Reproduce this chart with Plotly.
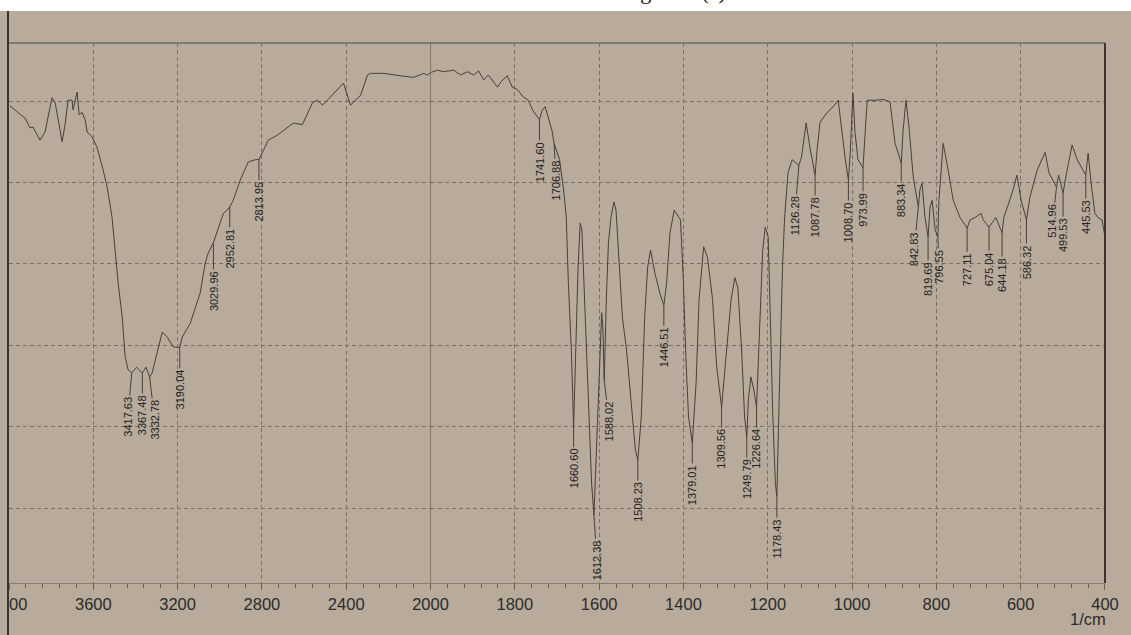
import numpy as np
import plotly.graph_objects as go

# ---------------- data ----------------
wavenumber = [
    3995, 3971, 3924, 3900, 3886, 3853, 3829, 3796, 3781, 3748, 3734, 3720, 3701, 3696,
    3677, 3667, 3653, 3639, 3629, 3606, 3582, 3553, 3534, 3511, 3496, 3482, 3463, 3449,
    3435, 3417.63, 3395, 3367.48, 3350, 3332.78, 3321, 3297, 3273, 3249, 3221, 3190.04,
    3178, 3140, 3093, 3069, 3055, 3029.96, 3007, 2983, 2965, 2952.81, 2936, 2903, 2865,
    2830, 2813.95, 2793, 2770, 2727, 2679, 2651, 2608, 2560, 2537, 2513, 2475, 2442, 2413,
    2380, 2356, 2332, 2299, 2285, 2223, 2176, 2142, 2081, 2033, 2014, 2000,
    1983, 1969, 1945, 1929, 1912, 1898, 1886, 1874, 1863, 1841, 1834, 1818, 1806, 1794,
    1780, 1768, 1758, 1741.60, 1735, 1728, 1720, 1712, 1706.88, 1694, 1685, 1678, 1673,
    1666, 1660.60, 1655, 1650, 1645, 1641, 1636, 1630, 1624, 1618, 1612.38, 1606, 1601,
    1598, 1594, 1591, 1588.02, 1583, 1578, 1572, 1565, 1560, 1555, 1545, 1535, 1522, 1514,
    1508.23, 1500, 1492, 1485, 1478, 1468, 1456, 1446.51, 1440, 1432, 1422, 1414, 1407,
    1400, 1395, 1388, 1379.01, 1370, 1363, 1352, 1343, 1331, 1321, 1309.56, 1298, 1287,
    1278, 1271, 1262, 1255, 1249.79, 1246, 1240, 1233, 1226.64, 1221, 1212, 1206, 1199,
    1194, 1188, 1182, 1178.43, 1172, 1165, 1160, 1152, 1142, 1126.28, 1120, 1109, 1099,
    1087.78, 1083, 1076, 1059, 1045, 1033, 1024, 1016, 1008.70, 1004, 998, 993, 986,
    973.99, 969, 964, 941, 926, 910, 898, 883.34, 879, 872, 865, 855, 842.83, 839, 834,
    827, 819.69, 815, 810, 803, 796.55, 794, 784, 775, 760, 744, 727.11, 720, 708, 694,
    689, 675.04, 668, 659, 644.18, 640, 630, 618, 609, 599, 586.32, 578, 561, 542, 533,
    523, 514.96, 510, 499.53, 490, 478, 466, 452, 445.53, 440, 433, 424, 417, 407, 400,
]
transmittance = [
    59.4, 58.9, 57.9, 56.7, 56.8, 55.2, 56.2, 60.4, 59.8, 55.0, 57.1, 60.1, 60.1, 58.9,
    61.1, 58.3, 58.6, 57.7, 56.2, 55.6, 54.3, 51.5, 49.4, 45.7, 41.7, 37.6, 33.5, 28.6,
    27.0, 26.6, 27.3, 26.6, 27.3, 26.1, 26.6, 29.0, 31.6, 31.0, 29.8, 29.7,
    31.0, 32.7, 36.4, 40.1, 41.3, 42.6, 44.5, 46.2, 46.6, 47.0, 47.8, 50.3, 52.5,
    52.8, 52.8, 54.0, 55.2, 55.8, 56.8, 57.3, 57.1, 59.8, 60.1, 59.5, 60.5, 61.4, 62.2,
    59.5, 60.1, 60.7, 63.2, 63.4, 63.4, 63.2, 63.1, 62.9, 63.4, 63.2, 63.5,
    63.8, 63.6, 63.8, 63.2, 63.6, 63.2, 63.7, 62.6, 63.2, 61.7, 62.3, 63.1, 61.7, 61.4,
    60.5, 60.1, 58.9, 57.7, 58.9, 59.3, 58.0, 56.4, 54.8, 52.8, 49.4, 45.7, 37.6,
    29.4, 20.0, 29.4, 39.6, 45.0, 44.2, 37.6, 29.4, 21.2, 13.1, 9.1, 18.4, 25.4,
    30.3, 34.0, 31.9, 25.7, 35.6, 42.6, 45.7, 47.6, 46.6, 41.7, 33.5, 29.4, 21.2, 17.1,
    15.9, 21.2, 33.5, 39.6, 41.7, 38.9, 36.4, 34.9, 37.6, 43.8, 46.6, 46.0, 45.4,
    37.6, 29.4, 21.2, 18.0, 25.4, 35.6, 42.1, 40.8, 35.6, 27.3, 22.4, 29.4, 35.6,
    38.3, 37.1, 29.4, 21.2, 18.7, 23.3, 26.1, 24.5, 22.4, 29.4, 41.7, 44.5, 43.3,
    33.5, 21.2, 13.1, 11.4, 25.4, 39.6, 45.7, 51.2, 52.8, 52.1, 53.1, 57.3, 54.0,
    50.9, 54.0, 57.4, 58.6, 59.3, 60.1, 56.1, 52.8, 50.3, 54.0, 61.0, 56.1, 52.8,
    51.8, 56.1, 60.1, 60.1, 60.2, 59.9, 54.8, 52.4, 56.4, 60.1, 56.8, 50.7, 47.0, 49.1, 49.9,
    45.7, 43.3, 47.0, 47.8, 44.2, 43.3, 47.8, 54.8, 52.4, 47.8, 45.7, 44.4, 45.4, 45.7, 46.2,
    45.4, 44.5, 45.0, 45.7, 43.8, 45.7, 47.2, 49.1, 50.9, 47.8, 45.4, 48.2, 51.5, 53.7, 51.2,
    50.3, 49.4, 50.9, 48.7, 51.5, 54.6, 52.8, 51.5, 50.9, 53.6, 49.9, 46.2, 45.7, 45.4, 43.3,
]
peak_wavenumbers = [
    3417.63, 3367.48, 3332.78, 3190.04, 3029.96, 2952.81, 2813.95,
    1741.60, 1706.88, 1660.60, 1612.38, 1588.02, 1508.23, 1446.51, 1379.01,
    1309.56, 1249.79, 1226.64, 1178.43, 1126.28, 1087.78, 1008.70, 973.99,
    883.34, 842.83, 819.69, 796.55, 727.11, 675.04, 644.18, 586.32,
    514.96, 499.53, 445.53,
]
upper_ticks = [4000, 3600, 3200, 2800, 2400]
lower_ticks = [2000, 1800, 1600, 1400, 1200, 1000, 800, 600, 400]
x_unit = "1/cm"
title_text = "Figure 6 (c)."

# ---------------- style ----------------
BG = "#b8ab9b"
CURVE = "#45403a"
GRID = "#7b7167"
BORDER = "#3a3530"
TEXT = "#2b2b2b"
W, H = 1131, 635
ML, MR, MT, MB = 9, 26, 43, 52
PW, PH = W - ML - MR, H - MT - MB
split = 1000 / 2600  # 4000-2000 drawn at half the scale of 2000-400

# per-label leader offsets (pixels), default below the curve
label_offset = {3417.63: (-4, 44), 3332.78: (5, 43), 3029.96: (0, 48), 1612.38: (3, 45),
                1588.02: (5, 41), 1126.28: (-4, 50), 842.83: (-4, 42), 796.55: (1, 30),
                514.96: (-4, 34), 1706.88: (2, 37), 883.34: (0, 37)}

wn = np.array(wavenumber, dtype=float)
tr = np.array(transmittance, dtype=float)
up = wn >= 2000
lo = wn <= 2000

fig = go.Figure()
fig.add_trace(go.Scatter(x=wn[up], y=tr[up], xaxis="x", yaxis="y", mode="lines",
                         line=dict(color=CURVE, width=1), hoverinfo="skip", showlegend=False))
fig.add_trace(go.Scatter(x=wn[lo], y=tr[lo], xaxis="x2", yaxis="y", mode="lines",
                         line=dict(color=CURVE, width=1), hoverinfo="skip", showlegend=False))

tickfont = dict(family="Liberation Sans, Arial", size=16.5, color=TEXT)
common_x = dict(showgrid=True, gridcolor=GRID, griddash="4px,3px", gridwidth=1,
                showline=True, linecolor="#857b70", linewidth=1, ticks="outside",
                ticklen=6, tickcolor="#6a6158", tickfont=tickfont, zeroline=False,
                tickmode="array", anchor="y", fixedrange=True, automargin=False,
                ticklabeloverflow="allow")

annotations = []
for p in peak_wavenumbers:
    ax_off, ay_off = label_offset.get(p, (0, 42))
    yv = float(np.interp(p, wn[::-1], tr[::-1]))
    annotations.append(dict(
        x=p, y=yv, xref="x" if p > 2000 else "x2", yref="y",
        text=f"{p:.2f}", textangle=-90, showarrow=True, arrowhead=0,
        arrowwidth=0.9, arrowcolor="#3a3632", ax=ax_off, ay=ay_off,
        font=dict(family="Liberation Sans, Arial", size=11, color="#222222"),
    ))
annotations.append(dict(x=(1088 - ML) / PW, y=-(619 - 583) / PH, xref="paper", yref="paper",
                        text=x_unit, showarrow=False, xanchor="center", yanchor="middle",
                        font=dict(family="Liberation Sans, Arial", size=16.5, color=TEXT)))
annotations.append(dict(x=(733 - ML) / PW, y=1 + (MT - 6) / PH, xref="paper", yref="paper",
                        text=title_text, showarrow=False, xanchor="right", yanchor="bottom",
                        font=dict(family="Liberation Serif, Times New Roman", size=22, color="#111111")))

shapes = [
    # white strip at the very top of the scan
    dict(type="rect", xref="paper", yref="paper", x0=-0.05, x1=1.05,
         y0=1 + (MT - 11) / PH, y1=1 + MT / PH + 0.05, fillcolor="white", line=dict(width=0),
         layer="above"),
    # the scan is cropped at its left frame: hide what lies left of it
    dict(type="rect", xref="paper", yref="paper", x0=-0.05, x1=-1 / PW,
         y0=-MB / PH - 0.05, y1=0, fillcolor=BG, line=dict(width=0), layer="above"),
    # top frame line
    dict(type="line", xref="paper", yref="paper", x0=0, x1=1, y0=1, y1=1,
         line=dict(color="#716860", width=1.5)),
    # left frame (runs full height of the scan)
    dict(type="line", xref="paper", yref="paper", x0=-1 / PW, x1=-1 / PW,
         y0=-MB / PH - 0.02, y1=1 + (MT - 11) / PH, line=dict(color=BORDER, width=2),
         layer="above"),
    # right frame
    dict(type="line", xref="paper", yref="paper", x0=1, x1=1, y0=0, y1=1,
         line=dict(color=BORDER, width=2)),
    # solid line at the scale change (2000 1/cm)
    dict(type="line", xref="x2", yref="paper", x0=2000, x1=2000, y0=0, y1=1,
         line=dict(color="#4a443e", width=1)),
]

fig.update_layout(
    width=W, height=H, margin=dict(l=ML, r=MR, t=MT, b=MB, pad=0, autoexpand=False),
    paper_bgcolor=BG, plot_bgcolor=BG, showlegend=False,
    xaxis=dict(domain=[0, split], range=[4000, 2000], tickvals=upper_ticks,
               ticktext=[str(v) for v in upper_ticks],
               minor=dict(dtick=80, tick0=0, ticks="outside", ticklen=4,
                          tickcolor="#6a6158", showgrid=False), **common_x),
    xaxis2=dict(domain=[split, 1], range=[2000, 400], tickvals=lower_ticks,
                ticktext=[str(v) for v in lower_ticks],
                minor=dict(dtick=40, tick0=0, ticks="outside", ticklen=4,
                           tickcolor="#6a6158", showgrid=False), **common_x),
    yaxis=dict(range=[0.79, 67.13], tick0=0, dtick=10, showticklabels=False,
               showgrid=True, gridcolor=GRID, griddash="4px,3px", gridwidth=1,
               zeroline=False, showline=False, ticks="", fixedrange=True, automargin=False),
    annotations=annotations, shapes=shapes,
)

fig.write_html(
    "out.html",
    config={"displayModeBar": False, "staticPlot": True},
    post_script="document.body.style.margin='0';document.body.style.overflow='hidden';"
                "document.body.style.background='" + BG + "';",
)
